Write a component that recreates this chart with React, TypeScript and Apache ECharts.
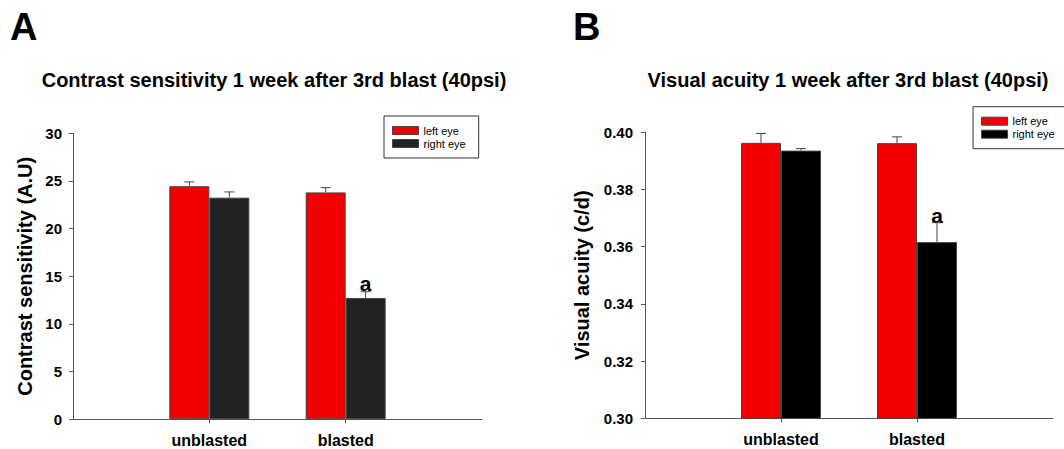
import React, { useEffect, useRef } from "react";
import * as echarts from "echarts";

const categories = ["unblasted", "blasted"];

// Panel A: contrast sensitivity
const csLeft = [24.45, 23.8];
const csLeftErr = [0.45, 0.5];
const csRight = [23.25, 12.73];
const csRightErr = [0.6, 0.65];
const csTicks = [0, 30, 5];

// Panel B: visual acuity
const vaLeft = [0.3963, 0.3962];
const vaLeftErr = [0.0033, 0.0022];
const vaRight = [0.3936, 0.3616];
const vaRightErr = [0.0007, 0.0068];
const vaTicks = [0.3, 0.4, 0.02];

const seriesNames = ["left eye", "right eye"];
const sigLabel = "a";

const FONT = "'Liberation Sans', Arial, Helvetica, sans-serif";
const RED = "#f20000";
const BAR_W = 40;

export default function App() {
  const ref = useRef<HTMLDivElement>(null);

  useEffect(() => {
    if (!ref.current) return;
    const chart = echarts.init(ref.current, undefined, { renderer: "svg" });

    const axisCats = ["", ...categories, ""];
    const pad = (arr: any[]) => ["-", ...arr, "-"];

    const errData = (means: number[], errs: number[], side: number) =>
      means.map((m, i) => [i + 1, m, errs[i], side]);

    const renderErr = (params: any, api: any) => {
      const x = api.value(0);
      const mean = api.value(1);
      const err = api.value(2);
      const side = api.value(3);
      const base = api.coord([x, mean]);
      const top = api.coord([x, mean + err]);
      const cx = base[0] + side * (BAR_W / 2);
      return {
        type: "group",
        children: [
          { type: "line", shape: { x1: cx, y1: base[1], x2: cx, y2: top[1] }, style: { stroke: "#444", lineWidth: 1 } },
          { type: "line", shape: { x1: cx - 5, y1: top[1], x2: cx + 5, y2: top[1] }, style: { stroke: "#444", lineWidth: 1 } },
        ],
      };
    };

    const xAxisBase = (gridIndex: number) => ({
      type: "category",
      gridIndex,
      data: axisCats,
      boundaryGap: false,
      axisLine: { lineStyle: { color: "#555", width: 1 } },
      axisTick: { show: true, length: 4, interval: (i: number) => i === 1 || i === 2, lineStyle: { color: "#555" } },
      axisLabel: { color: "#000", fontWeight: "bold", fontSize: 16, margin: 13, fontFamily: FONT, interval: 0 },
      splitLine: { show: false },
    });

    const yAxisBase = (gridIndex: number, ticks: number[], name: string, nameGap: number, margin: number, fmt: (v: number) => string) => ({
      type: "value",
      gridIndex,
      min: ticks[0],
      max: ticks[1],
      interval: ticks[2],
      name,
      nameLocation: "middle",
      nameGap,
      nameTextStyle: { color: "#000", fontWeight: "bold", fontSize: 20, fontFamily: FONT },
      axisLine: { show: true, lineStyle: { color: "#555", width: 1 } },
      axisTick: { show: true, length: 4, lineStyle: { color: "#555" } },
      axisLabel: { color: "#000", fontWeight: "bold", fontSize: 15, margin, fontFamily: FONT, formatter: fmt },
      splitLine: { show: false },
    });

    const barBase = (name: string, xi: number, color: string, data: any[]) => ({
      type: "bar",
      name,
      xAxisIndex: xi,
      yAxisIndex: xi,
      barWidth: BAR_W,
      barGap: "0%",
      data,
      z: 2,
      itemStyle: { color, borderColor: "#444", borderWidth: 1 },
    });

    const sigItem = (v: number, distance: number) => ({
      value: v,
      label: {
        show: true,
        position: "top",
        distance,
        formatter: sigLabel,
        color: "#000",
        fontWeight: "bold",
        fontSize: 21,
        fontFamily: FONT,
      },
    });

    const csRightData = csRight.map((v, i) => (i === 1 ? sigItem(v, 4) : v));
    const vaRightData = vaRight.map((v, i) => (i === 1 ? sigItem(v, 16) : v));

    const legendBase = (left: number, top: number, black: string) => ({
      orient: "vertical",
      left,
      top,
      padding: [8, 13, 8, 8],
      itemWidth: 26,
      itemHeight: 8,
      itemGap: 0,
      icon: "rect",
      borderColor: "#333",
      borderWidth: 1,
      textStyle: { fontSize: 11, lineHeight: 13, color: "#000", fontFamily: FONT },
      data: [
        { name: seriesNames[0], itemStyle: { color: RED, borderColor: "#444", borderWidth: 1 } },
        { name: seriesNames[1], itemStyle: { color: black, borderColor: "#444", borderWidth: 1 } },
      ],
      selectedMode: false,
    });

    const option: any = {
      animation: false,
      textStyle: { fontFamily: FONT },
      grid: [
        { left: 73, top: 133.3, width: 409, height: 286 },
        { left: 645, top: 132.3, width: 408, height: 286 },
      ],
      xAxis: [xAxisBase(0), xAxisBase(1)],
      yAxis: [
        yAxisBase(0, csTicks, "Contrast sensitivity (A.U)", 38, 11, (v: number) => String(v)),
        yAxisBase(1, vaTicks, "Visual acuity (c/d)", 53, 12, (v: number) => v.toFixed(2)),
      ],
      legend: [legendBase(384, 116, "#222"), legendBase(973, 106.7, "#000")],
      series: [
        barBase(seriesNames[0], 0, RED, pad(csLeft)),
        barBase(seriesNames[1], 0, "#222", pad(csRightData)),
        barBase(seriesNames[0], 1, RED, pad(vaLeft)),
        barBase(seriesNames[1], 1, "#000", pad(vaRightData)),
        {
          type: "custom",
          xAxisIndex: 0,
          yAxisIndex: 0,
          z: 3,
          renderItem: renderErr,
          data: [...errData(csLeft, csLeftErr, -1), ...errData(csRight, csRightErr, 1)],
          encode: { x: 0, y: 1 },
          silent: true,
        },
        {
          type: "custom",
          xAxisIndex: 1,
          yAxisIndex: 1,
          z: 3,
          renderItem: renderErr,
          data: [...errData(vaLeft, vaLeftErr, -1), ...errData(vaRight, vaRightErr, 1)],
          encode: { x: 0, y: 1 },
          silent: true,
        },
      ],
      graphic: [
        { type: "text", left: 10, top: 8, style: { text: "A", fontSize: 38, fontWeight: "bold", fill: "#000", fontFamily: FONT } },
        { type: "text", left: 573, top: 8, style: { text: "B", fontSize: 38, fontWeight: "bold", fill: "#000", fontFamily: FONT } },
        {
          type: "text",
          x: 274,
          y: 79.5,
          style: { text: "Contrast sensitivity 1 week after 3rd blast (40psi)", fontSize: 20, fontWeight: "bold", fill: "#000", fontFamily: FONT, textAlign: "center", textVerticalAlign: "middle" },
        },
        {
          type: "text",
          x: 848,
          y: 79.5,
          style: { text: "Visual acuity 1 week after 3rd blast (40psi)", fontSize: 20, fontWeight: "bold", fill: "#000", fontFamily: FONT, textAlign: "center", textVerticalAlign: "middle" },
        },
      ],
    };

    chart.setOption(option);
    return () => chart.dispose();
  }, []);

  return <div ref={ref} style={{ position: "absolute", left: 0, top: 0, width: 1064, height: 449, background: "#fff" }} />;
}
